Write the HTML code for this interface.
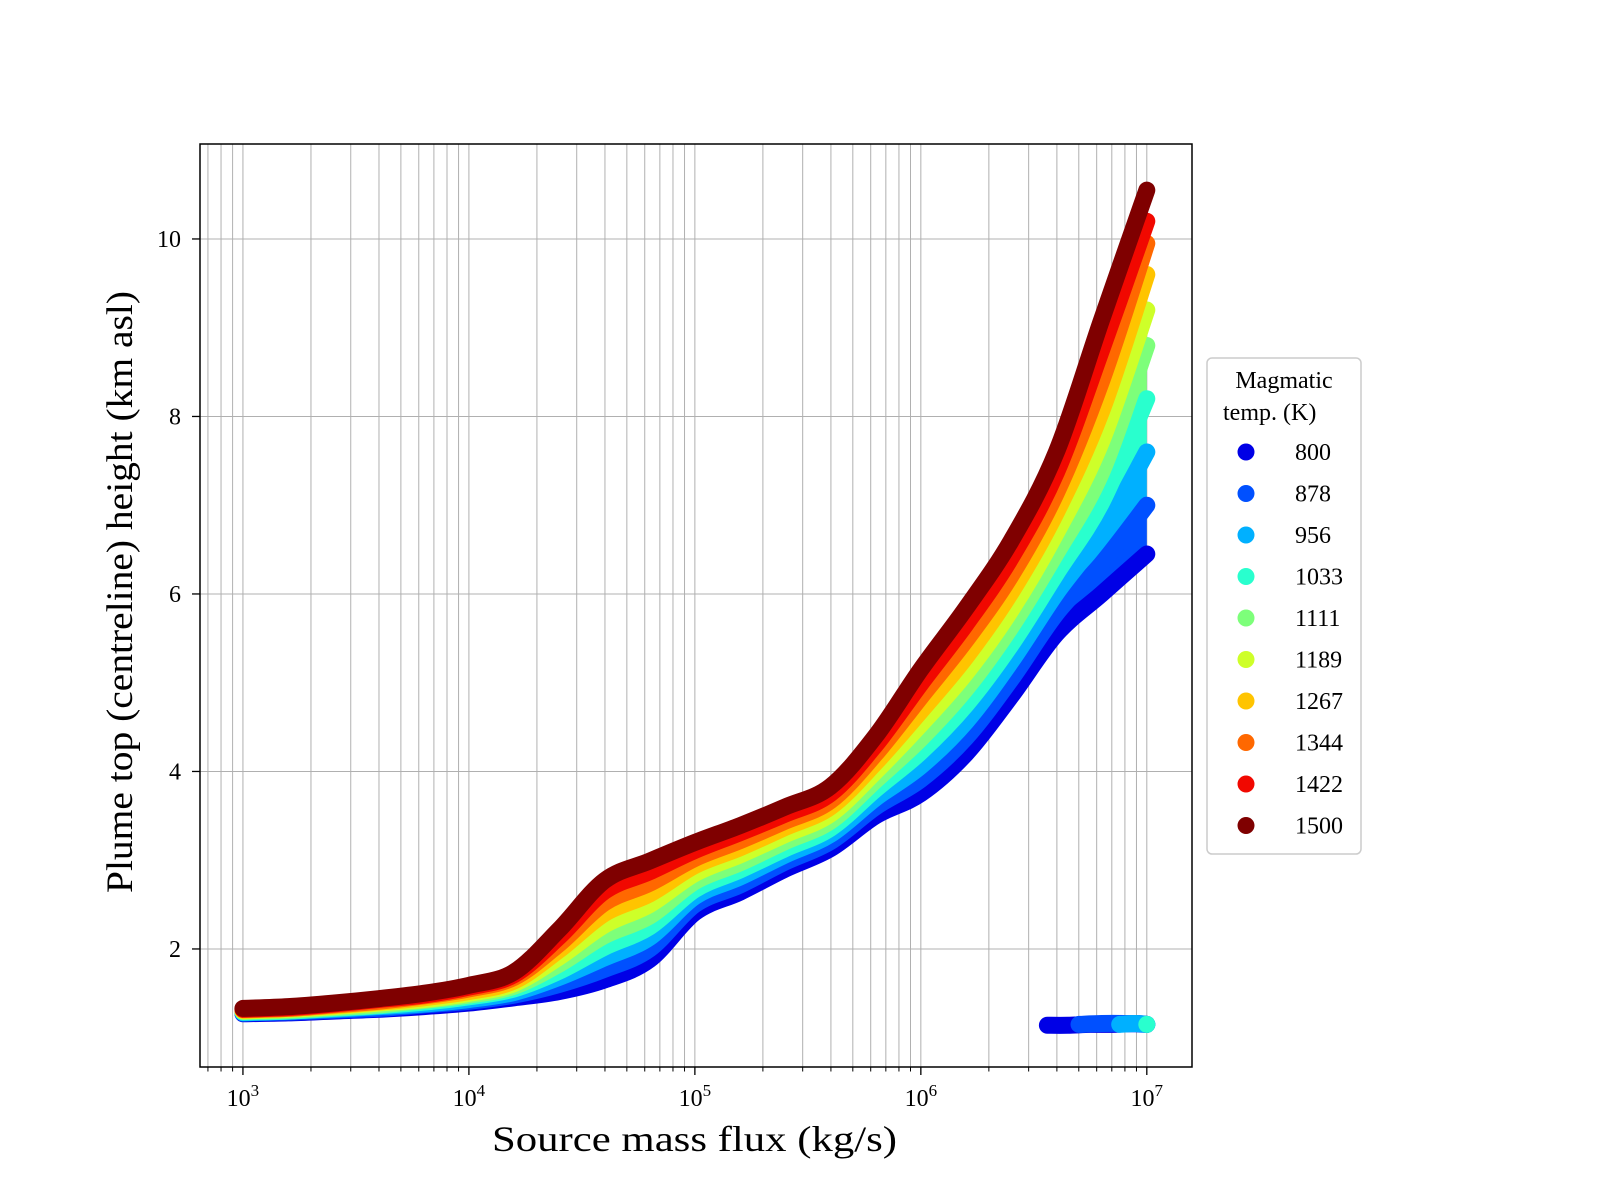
<!DOCTYPE html>
<html><head><meta charset="utf-8"><style>
body{margin:0;background:#fff}
svg{display:block;font-family:"Liberation Serif",serif}
</style></head><body>
<svg id="chart" width="1600" height="1200" viewBox="0 0 1600 1200"></svg>
<script>
const temps=[800,878,956,1033,1111,1189,1267,1344,1422,1500];
const colors=["#0000e6","#0050ff","#00b0ff","#29ffce","#7dff7a","#ceff29","#ffc400","#ff6800","#f10800","#7f0000"];
const logFlux=[3.0,3.2,3.4,3.6,3.8,4.0,4.2,4.4,4.6,4.8,5.0,5.2,5.4,5.6,5.8,6.0,6.2,6.4,6.6,6.8,7.0];
const h800 =[1.27,1.28,1.30,1.32,1.35,1.39,1.45,1.52,1.65,1.88,2.41,2.64,2.90,3.13,3.50,3.75,4.20,4.85,5.55,6.00,6.45];
const h878 =[1.28,1.29,1.31,1.33,1.37,1.41,1.48,1.60,1.77,2.00,2.50,2.72,2.98,3.21,3.60,3.91,4.38,5.04,5.78,6.34,7.00];
const h956 =[1.28,1.30,1.32,1.35,1.38,1.43,1.51,1.68,1.90,2.13,2.59,2.81,3.06,3.29,3.70,4.06,4.56,5.24,6.01,6.69,7.60];
const h1033=[1.29,1.30,1.33,1.36,1.40,1.46,1.55,1.75,2.02,2.25,2.67,2.89,3.13,3.36,3.80,4.22,4.75,5.43,6.23,7.03,8.20];
const h1111=[1.30,1.31,1.34,1.37,1.42,1.48,1.58,1.83,2.15,2.37,2.76,2.97,3.21,3.44,3.90,4.37,4.93,5.63,6.46,7.37,8.80];
const h1189=[1.30,1.32,1.35,1.39,1.43,1.50,1.61,1.91,2.27,2.50,2.85,3.06,3.29,3.52,4.00,4.53,5.11,5.82,6.69,7.72,9.20];
const h1267=[1.31,1.33,1.36,1.40,1.45,1.52,1.64,1.99,2.40,2.62,2.94,3.14,3.37,3.60,4.10,4.68,5.29,6.02,6.92,8.06,9.60];
const h1344=[1.32,1.33,1.37,1.41,1.47,1.55,1.68,2.06,2.52,2.74,3.02,3.22,3.44,3.67,4.20,4.84,5.48,6.21,7.14,8.40,9.95];
const h1422=[1.32,1.34,1.38,1.43,1.48,1.57,1.71,2.14,2.65,2.87,3.11,3.31,3.52,3.75,4.30,4.99,5.66,6.41,7.37,8.75,10.20];
const h1500=[1.33,1.35,1.39,1.44,1.50,1.59,1.74,2.22,2.77,2.99,3.20,3.39,3.60,3.83,4.40,5.15,5.84,6.60,7.60,9.09,10.55];
const series=[h800,h878,h956,h1033,h1111,h1189,h1267,h1344,h1422,h1500];
const lowFlux800=[6.56,6.65,6.75,6.85,6.95,7.0];
const lowH800=[1.14,1.14,1.15,1.15,1.16,1.15];
const lowFlux878=[6.70,6.80,6.90,7.0];
const lowH878=[1.15,1.16,1.16,1.15];
const lowFlux956=[6.88,6.95,7.0];
const lowH956=[1.15,1.16,1.15];
const lowFlux1033=[7.0];
const lowH1033=[1.15];
const lowSeries=[[lowFlux800,lowH800],[lowFlux878,lowH878],[lowFlux956,lowH956],[lowFlux1033,lowH1033]];
const yTicks=[2,4,6,8,10];
const xDecades=[3,4,5,6,7];

const L=200,R=1192,T=144,B=1067;
const xmin=2.81,xmax=7.2,ymin=0.67,ymax=11.07;
const X=lx=>L+(lx-xmin)/(xmax-xmin)*(R-L);
const Y=v=>B-(v-ymin)/(ymax-ymin)*(B-T);
const svg=document.getElementById('chart');
const NS="http://www.w3.org/2000/svg";
function mk(tag,attrs,parent){const e=document.createElementNS(NS,tag);for(const k in attrs)e.setAttribute(k,attrs[k]);(parent||svg).appendChild(e);return e;}
function segs(P){let d='';
 for(let i=0;i<P.length-1;i++){const p0=P[Math.max(0,i-1)],p1=P[i],p2=P[i+1],p3=P[Math.min(P.length-1,i+2)];
  const c1=[p1[0]+(p2[0]-p0[0])/6,p1[1]+(p2[1]-p0[1])/6],c2=[p2[0]-(p3[0]-p1[0])/6,p2[1]-(p3[1]-p1[1])/6];
  d+=' C'+c1[0]+','+c1[1]+' '+c2[0]+','+c2[1]+' '+p2[0]+','+p2[1];}return d;}
function smoothPath(P){if(P.length===1)return 'M'+P[0][0]+','+P[0][1]+'l0,0';return 'M'+P[0][0]+','+P[0][1]+segs(P);}

const grid=mk('g',{});


const ticks=mk('g',{});


for(let d=2;d<=7;d++){for(let m=1;m<=9;m++){const lx=d+Math.log10(m);if(lx<xmin||lx>xmax)continue;const x=X(lx);
 mk('line',{x1:x,x2:x,y1:T,y2:B,stroke:'#b0b0b0','stroke-width':1},grid);
 mk('line',{x1:x,x2:x,y1:B,y2:B+(m===1?8:4.5),stroke:'#000','stroke-width':m===1?1.3:1},ticks);}}
xDecades.forEach(d=>{const t=mk('text',{x:X(d),y:1106,'text-anchor':'middle','font-size':24});
 
 
 t.textContent='10';const s=mk('tspan',{dy:-10,'font-size':17},t);s.textContent=String(d);});
yTicks.forEach(v=>{const y=Y(v);mk('line',{x1:L,x2:R,y1:y,y2:y,stroke:'#b0b0b0','stroke-width':1},grid);
 mk('line',{x1:L-8,x2:L,y1:y,y2:y,stroke:'#000','stroke-width':1.3});
 const t=mk('text',{x:181,y:y+8,'text-anchor':'end','font-size':24});
 
 
 t.textContent=String(v);});

const data=mk('g',{});


const pts=series.map(s=>s.map((v,j)=>[X(logFlux[j]),Y(v)]));
// fill gaps between adjacent series with the upper series colour
for(let i=1;i<series.length;i++){
 const up=pts[i],lo=pts[i-1].slice().reverse();
 const d='M'+up[0][0]+','+up[0][1]+segs(up)+' L'+lo[0][0]+','+lo[0][1]+segs(lo)+' Z';
 const f=mk('path',{d:d,fill:colors[i],stroke:'none'},data);
 
 
}
series.forEach((s,i)=>{const g=mk('g',{},data);
 
 
 mk('path',{d:smoothPath(pts[i]),fill:'none',stroke:colors[i],'stroke-width':17,'stroke-linecap':'round','stroke-linejoin':'round'},g);});
lowSeries.forEach((p,i)=>{const g=mk('g',{},data);
 
 
 const P=p[0].map((lx,j)=>[X(lx),Y(p[1][j])]);
 mk('path',{d:smoothPath(P),fill:'none',stroke:colors[i],'stroke-width':17,'stroke-linecap':'round','stroke-linejoin':'round'},g);});

const frame=mk('rect',{x:L,y:T,width:R-L,height:B-T,fill:'none',stroke:'#000','stroke-width':1.5});



const xl=mk('text',{x:492,y:1151,'font-size':36,textLength:405,lengthAdjust:'spacingAndGlyphs'});


xl.textContent='Source mass flux (kg/s)';
const yl=mk('text',{x:-301,y:0,'font-size':37,transform:'translate(132,592) rotate(-90)',textLength:602,lengthAdjust:'spacingAndGlyphs'});


yl.textContent='Plume top (centreline) height (km asl)';

const lg=mk('g',{});


mk('rect',{x:1207,y:358,width:154,height:496,rx:5,fill:'#fff',stroke:'#ccc','stroke-width':1.5},lg);
const lt1=mk('text',{x:1284,y:388,'text-anchor':'middle','font-size':24},lg);lt1.textContent='Magmatic';
const lt2=mk('text',{x:1223,y:420,'font-size':24},lg);lt2.textContent='temp. (K)';
temps.forEach((t,i)=>{const y=452+i*41.5;const e=mk('g',{},lg);
 
 
 mk('circle',{cx:1246,cy:y,r:8.5,fill:colors[i]},e);
 const tx=mk('text',{x:1295,y:y+8,'font-size':24},e);tx.textContent=String(t);});
</script>
</body></html>
